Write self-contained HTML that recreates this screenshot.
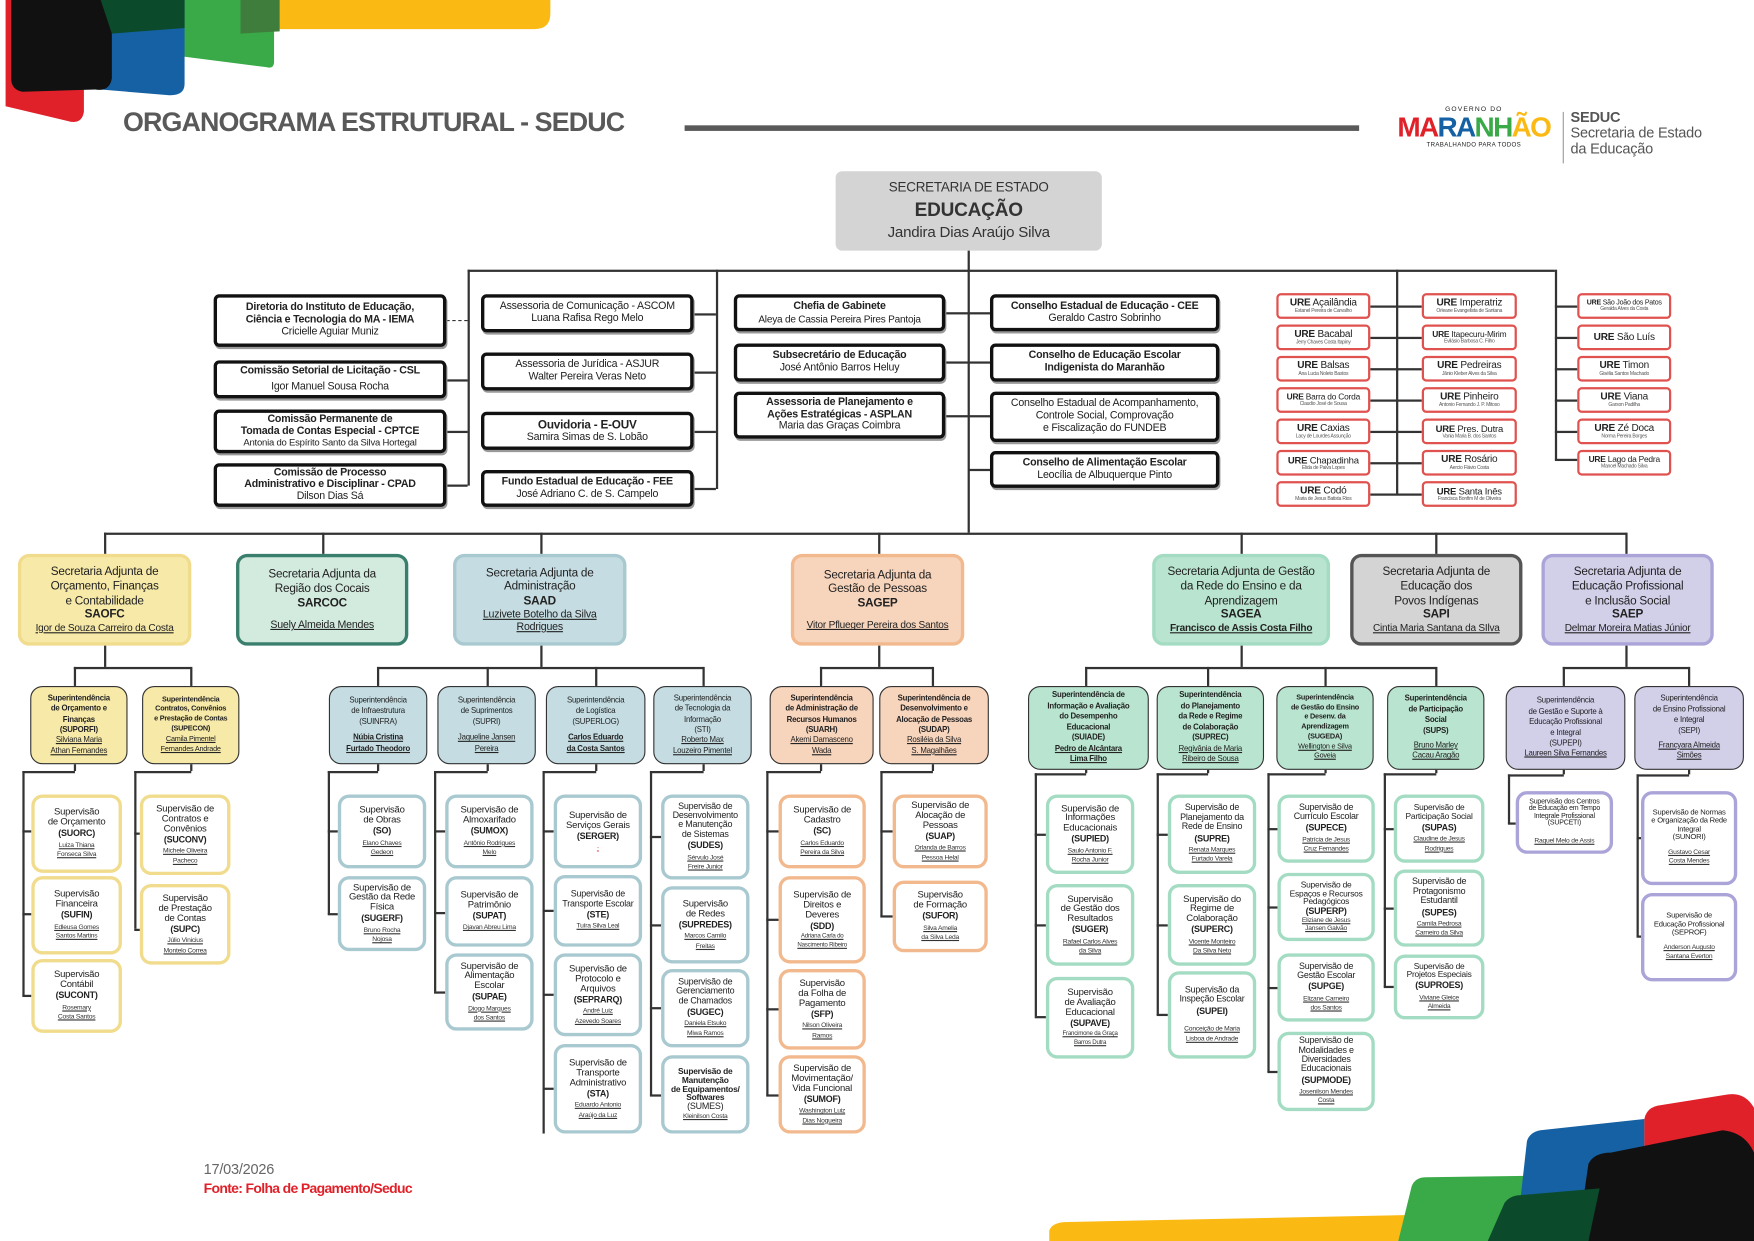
<!DOCTYPE html>
<html><head><meta charset="utf-8">
<style>
html,body{margin:0;padding:0;background:#fff;}
body{width:1754px;height:1241px;overflow:hidden;position:relative;}
#w{position:absolute;left:0;top:0;width:1568px;height:1109px;transform:scale(1.11862,1.1190);transform-origin:0 0;font-family:"Liberation Sans",sans-serif;color:#222;letter-spacing:-0.2px}
.b{position:absolute;box-sizing:border-box;display:flex;flex-direction:column;justify-content:center;align-items:center;text-align:center;line-height:1.15;overflow:hidden;}
.k{border:3px solid #111;border-radius:5px;font-size:9.5px;background:#fff;box-shadow:1px 2px 0 #999;}
.k b{font-size:9.5px}
.u{border:2px solid #e0524f;border-radius:4px;font-size:9px;background:#fff;line-height:1.05;white-space:nowrap}
.u small{font-size:4.5px;color:#555}
.sa{border-radius:10px;border-width:3px;border-style:solid;font-size:10.5px;line-height:1.2}
.sa i{font-style:normal;text-decoration:underline;font-size:9.5px}
.sp{border:1.5px solid #333;border-radius:11px;font-size:7px;line-height:1.35}
.sp i{font-style:normal;text-decoration:underline}
.c{border-width:3.5px;border-style:solid;border-radius:10px;background:#fff;font-size:8.5px;line-height:1.05}
.c b{font-size:8px;margin:2px 0}
.c i{font-style:normal;text-decoration:underline;font-size:6px;line-height:1.4;color:#333}
.Y{border-color:#f0dc8c}.T{border-color:#a9c9d0}.P{border-color:#f2b98e}.G{border-color:#a3dcc2}.V{border-color:#aaa4d8}
.h{position:absolute;height:1.5px;background:#333}
.v{position:absolute;width:1.5px;background:#333}
</style></head><body><div id="w">
<svg style="position:absolute;left:0;top:0" width="1568" height="1109">
<path d="M240 0 H492 V12 Q492 26 478 26 H240Z" fill="#fbb913"/>
<path d="M160 0 H245 V55 Q245 62 238 60 L160 50Z" fill="#3aaa48"/>
<path d="M215 0 H250 V28 L215 30Z" fill="#3f7d3c"/>
<path d="M90 0 H165 V75 Q165 86 150 85 L90 80Z" fill="#1561a4"/>
<path d="M5 0 H75 V100 Q73 112 60 108 L5 95Z" fill="#e02129"/>
<path d="M10 0 H100 V70 Q98 82 85 80 L20 82 Q10 80 10 70Z" fill="#111"/>
<path d="M90 0 H165 V25 L100 30 Z" fill="#0b4a2a"/>
<path d="M938 1109 V1100 Q940 1092 955 1092 L1300 1085 V1109Z" fill="#fbb913"/>
<path d="M1250 1109 L1262 1060 Q1265 1052 1275 1052 L1420 1050 V1109Z" fill="#3aaa48"/>
<path d="M1355 1109 L1365 1020 Q1367 1012 1377 1010 L1470 1000 V1109Z" fill="#1561a4"/>
<path d="M1470 1109 V1000 Q1472 990 1482 988 L1545 978 Q1560 976 1568 990 V1109Z" fill="#e02129"/>
<path d="M1410 1109 L1420 1040 Q1425 1030 1440 1030 L1540 1010 Q1560 1012 1568 1030 V1109Z" fill="#111"/>
<path d="M1330 1109 L1345 1075 Q1350 1068 1360 1068 L1430 1062 L1420 1109Z" fill="#0b4a2a"/>
</svg>
<div style="position:absolute;left:110px;top:96px;font-weight:bold;font-size:24px;color:#595959;letter-spacing:-0.8px">ORGANOGRAMA ESTRUTURAL - SEDUC</div>
<div style="position:absolute;left:612px;top:112px;width:603px;height:5px;background:#595959"></div>
<div style="position:absolute;left:1245px;top:95px;width:145px;text-align:center">
<div style="font-size:6px;letter-spacing:1px">GOVERNO DO</div>
<div style="font-size:25px;font-weight:bold;line-height:26px;letter-spacing:-1.5px"><span style="color:#e02129">MA</span><span style="color:#1561a4">RA</span><span style="color:#3aaa48">NH</span><span style="color:#fbb913">ÃO</span></div>
<div style="font-size:5.5px;letter-spacing:0.3px">TRABALHANDO PARA TODOS</div></div>
<div style="position:absolute;left:1397px;top:100px;width:1px;height:46px;background:#999"></div>
<div style="position:absolute;left:1404px;top:98px;font-size:13px;line-height:14px;color:#555"><b>SEDUC</b><br>Secretaria de Estado<br>da Educação</div>

<div class="b" style="left:747px;top:153px;width:238px;height:71px;background:#d4d4d4;border-radius:6px;font-size:12px;color:#333">SECRETARIA DE ESTADO<div style="font-size:17px;font-weight:bold;margin:3px 0">EDUCAÇÃO</div><div style="font-size:13.5px">Jandira Dias Araújo Silva</div></div>

<div class="v" style="left:865px;top:224px;height:252px"></div>
<div class="h" style="left:418px;top:241px;width:972px"></div>
<div class="v" style="left:418px;top:241px;height:193px"></div>
<div class="v" style="left:640px;top:241px;height:196px"></div>
<div class="v" style="left:1248px;top:241px;height:200px"></div>
<div class="v" style="left:1390px;top:241px;height:170px"></div>
<div style="position:absolute;left:399px;top:286px;width:19px;border-top:1.5px dashed #333"></div>
<div class="h" style="left:399px;top:339px;width:19px"></div>
<div class="h" style="left:399px;top:385px;width:19px"></div>
<div class="h" style="left:399px;top:433px;width:19px"></div>
<div class="h" style="left:620px;top:280px;width:20px"></div>
<div class="h" style="left:620px;top:332px;width:20px"></div>
<div class="h" style="left:620px;top:385px;width:20px"></div>
<div class="h" style="left:620px;top:436px;width:20px"></div>
<div class="h" style="left:845px;top:279px;width:40px"></div>
<div class="h" style="left:845px;top:323px;width:40px"></div>
<div class="h" style="left:845px;top:371px;width:40px"></div>
<div class="h" style="left:866px;top:419px;width:19px"></div>

<div class="b k" style="left:191px;top:263px;width:208px;height:47px"><b>Diretoria do Instituto de Educação,</b><b>Ciência e Tecnologia do MA - IEMA</b>Cricielle Aguiar Muniz</div>
<div class="b k" style="left:191px;top:322px;width:208px;height:34px"><b>Comissão Setorial de Licitação - CSL</b><div style="margin-top:3px">Igor Manuel Sousa Rocha</div></div>
<div class="b k" style="left:191px;top:366px;width:208px;height:39px;line-height:1.1"><b>Comissão Permanente de</b><b>Tomada de Contas Especial - CPTCE</b><span style="font-size:8.5px">Antonia do Espírito Santo da Silva Hortegal</span></div>
<div class="b k" style="left:191px;top:414px;width:208px;height:39px;line-height:1.1"><b>Comissão de Processo</b><b>Administrativo e Disciplinar - CPAD</b>Dilson Dias Sá</div>
<div class="b k" style="left:430px;top:263px;width:190px;height:34px">Assessoria de Comunicação - ASCOM<br>Luana Rafisa Rego Melo</div>
<div class="b k" style="left:430px;top:315px;width:190px;height:34px">Assessoria de Jurídica - ASJUR<br>Walter Pereira Veras Neto</div>
<div class="b k" style="left:430px;top:368px;width:190px;height:34px"><b style="font-size:10.5px">Ouvidoria - E-OUV</b>Samira Simas de S. Lobão</div>
<div class="b k" style="left:430px;top:420px;width:190px;height:33px"><b style="font-size:9.5px">Fundo Estadual de Educação - FEE</b>José Adriano C. de S. Campelo</div>
<div class="b k" style="left:656px;top:263px;width:189px;height:33px"><b>Chefia de Gabinete</b><span style="font-size:9px">Aleya de Cassia Pereira Pires Pantoja</span></div>
<div class="b k" style="left:656px;top:307px;width:189px;height:34px"><b>Subsecretário de Educação</b>José Antônio Barros Heluy</div>
<div class="b k" style="left:656px;top:350px;width:189px;height:42px"><b>Assessoria de Planejamento e</b><b>Ações Estratégicas - ASPLAN</b>Maria das Graças Coimbra</div>
<div class="b k" style="left:885px;top:263px;width:205px;height:33px"><b>Conselho Estadual de Educação - CEE</b>Geraldo Castro Sobrinho</div>
<div class="b k" style="left:885px;top:307px;width:205px;height:34px"><b>Conselho de Educação Escolar</b><b>Indigenista do Maranhão</b></div>
<div class="b k" style="left:885px;top:350px;width:205px;height:45px">Conselho Estadual de Acompanhamento,<br>Controle Social, Comprovação<br>e Fiscalização do FUNDEB</div>
<div class="b k" style="left:885px;top:403px;width:205px;height:33px"><b>Conselho de Alimentação Escolar</b>Leocília de Albuquerque Pinto</div>

<div class="h" style="left:1225px;top:273px;width:46px"></div><div class="h" style="left:1225px;top:301px;width:46px"></div><div class="h" style="left:1225px;top:329px;width:46px"></div><div class="h" style="left:1225px;top:357px;width:46px"></div><div class="h" style="left:1225px;top:385px;width:46px"></div><div class="h" style="left:1225px;top:413px;width:46px"></div><div class="h" style="left:1225px;top:441px;width:46px"></div>
<div class="h" style="left:1390px;top:273px;width:20px"></div><div class="h" style="left:1390px;top:301px;width:20px"></div><div class="h" style="left:1390px;top:329px;width:20px"></div><div class="h" style="left:1390px;top:357px;width:20px"></div><div class="h" style="left:1390px;top:385px;width:20px"></div><div class="h" style="left:1390px;top:410px;width:20px"></div>
<div class="b u" style="left:1141px;top:262px;width:84px;height:23px"><span><b>URE</b> Açailândia</span><small>Estanel Pereira de Carvalho</small></div>
<div class="b u" style="left:1141px;top:290px;width:84px;height:23px"><span><b>URE</b> Bacabal</span><small>Jerry Chaves Costa Itapiny</small></div>
<div class="b u" style="left:1141px;top:318px;width:84px;height:23px"><span><b>URE</b> Balsas</span><small>Ana Lucia Noleto Bastos</small></div>
<div class="b u" style="left:1141px;top:346px;width:84px;height:23px"><span style="font-size:7.5px"><b>URE</b> Barra do Corda</span><small>Claudio José de Sousa</small></div>
<div class="b u" style="left:1141px;top:374px;width:84px;height:23px"><span><b>URE</b> Caxias</span><small>Lacy de Lourdes Assunção</small></div>
<div class="b u" style="left:1141px;top:402px;width:84px;height:23px"><span style="font-size:8.5px"><b>URE</b> Chapadinha</span><small>Elida de Paiva Lopes</small></div>
<div class="b u" style="left:1141px;top:430px;width:84px;height:23px"><span><b>URE</b> Codó</span><small>Maria de Jesus Batista Rios</small></div>
<div class="b u" style="left:1271px;top:262px;width:85px;height:23px"><span><b>URE</b> Imperatriz</span><small>Orleane Evangelista de Santana</small></div>
<div class="b u" style="left:1271px;top:290px;width:85px;height:23px"><span style="font-size:7.5px"><b>URE</b> Itapecuru-Mirim</span><small>Evilásio Barbosa C. Filho</small></div>
<div class="b u" style="left:1271px;top:318px;width:85px;height:23px"><span><b>URE</b> Pedreiras</span><small>Jânio Kleber Alves da Silva</small></div>
<div class="b u" style="left:1271px;top:346px;width:85px;height:23px"><span><b>URE</b> Pinheiro</span><small>Antonio Fernando J. P. Mitoso</small></div>
<div class="b u" style="left:1271px;top:374px;width:85px;height:23px"><span style="font-size:8.5px"><b>URE</b> Pres. Dutra</span><small>Vania Maria B. dos Santos</small></div>
<div class="b u" style="left:1271px;top:402px;width:85px;height:23px"><span><b>URE</b> Rosário</span><small>Aercio Flávio Costa</small></div>
<div class="b u" style="left:1271px;top:430px;width:85px;height:23px"><span style="font-size:8.5px"><b>URE</b> Santa Inês</span><small>Francisca Bonfim M de Oliveira</small></div>
<div class="b u" style="left:1410px;top:262px;width:84px;height:23px"><span style="font-size:6.3px"><b>URE</b> São João dos Patos</span><small>Geralda Alves da Costa</small></div>
<div class="b u" style="left:1410px;top:290px;width:84px;height:23px"><span><b>URE</b> São Luís</span></div>
<div class="b u" style="left:1410px;top:318px;width:84px;height:23px"><span><b>URE</b> Timon</span><small>Gisélia Santos Machado</small></div>
<div class="b u" style="left:1410px;top:346px;width:84px;height:23px"><span><b>URE</b> Viana</span><small>Garson Padilha</small></div>
<div class="b u" style="left:1410px;top:374px;width:84px;height:23px"><span><b>URE</b> Zé Doca</span><small>Norma Pereira Borges</small></div>
<div class="b u" style="left:1410px;top:402px;width:84px;height:23px"><span style="font-size:7.5px"><b>URE</b> Lago da Pedra</span><small>Manoel Machado Silva</small></div>

<div class="h" style="left:93px;top:476px;width:1361px"></div>
<div class="v" style="left:93px;top:476px;height:19px"></div>
<div class="v" style="left:288px;top:476px;height:19px"></div>
<div class="v" style="left:483px;top:476px;height:19px"></div>
<div class="v" style="left:785px;top:476px;height:19px"></div>
<div class="v" style="left:1109px;top:476px;height:19px"></div>
<div class="v" style="left:1283px;top:476px;height:19px"></div>
<div class="v" style="left:1453px;top:476px;height:19px"></div>

<div class="b sa" style="left:16px;top:495px;width:155px;height:82px;background:#f7eaa9;border-color:#f0dc8c">Secretaria Adjunta de<br>Orçamento, Finanças<br>e Contabilidade<b>SAOFC</b><i style="font-size:9px">Igor de Souza Carreiro da Costa</i></div>
<div class="b sa" style="left:211px;top:495px;width:154px;height:82px;background:#d3ebdf;border-color:#3a7f6d">Secretaria Adjunta da<br>Região dos Cocais<b>SARCOC</b><i style="margin-top:8px">Suely Almeida Mendes</i></div>
<div class="b sa" style="left:405px;top:495px;width:155px;height:82px;background:#c5dde2;border-color:#a9c9d0">Secretaria Adjunta de<br>Administração<b>SAAD</b><i>Luzivete Botelho da Silva<br>Rodrigues</i></div>
<div class="b sa" style="left:707px;top:495px;width:155px;height:82px;background:#f7d4bc;border-color:#f2b98e">Secretaria Adjunta da<br>Gestão de Pessoas<b>SAGEP</b><i style="margin-top:8px;font-size:9px">Vitor Pflueger Pereira dos Santos</i></div>
<div class="b sa" style="left:1030px;top:495px;width:159px;height:82px;background:#b9e4cf;border-color:#a3dcc2">Secretaria Adjunta de Gestão<br>da Rede do Ensino e da<br>Aprendizagem<b>SAGEA</b><i style="font-weight:bold;font-size:9px">Francisco de Assis Costa Filho</i></div>
<div class="b sa" style="left:1207px;top:495px;width:154px;height:82px;background:#d4d4d4;border-color:#555">Secretaria Adjunta de<br>Educação dos<br>Povos Indígenas<b>SAPI</b><i style="font-size:9px">Cintia Maria Santana da SIlva</i></div>
<div class="b sa" style="left:1378px;top:495px;width:154px;height:82px;background:#d2cfe9;border-color:#aaa4d8">Secretaria Adjunta de<br>Educação Profissional<br>e Inclusão Social<b>SAEP</b><i style="font-size:9px">Delmar Moreira Matias Júnior</i></div>

<div class="v" style="left:93px;top:577px;height:19px"></div>
<div class="h" style="left:66px;top:596px;width:105px"></div>
<div class="v" style="left:66px;top:596px;height:17px"></div><div class="v" style="left:170px;top:596px;height:17px"></div>
<div class="b sp" style="left:27px;top:613px;width:87px;height:70px;background:#f7eaa9"><b>Superintendência<br>de Orçamento e<br>Finanças<br>(SUPORFI)</b><i>Silviana Maria<br>Athan Fernandes</i></div>
<div class="b sp" style="left:127px;top:613px;width:87px;height:70px;background:#f7eaa9;font-size:6.5px"><b>Superintendência<br>Contratos, Convênios<br>e Prestação de Contas<br>(SUPECON)</b><i>Camila Pimentel<br>Fernandes Andrade</i></div>
<div class="v" style="left:66px;top:683px;height:6px"></div><div class="h" style="left:20px;top:689px;width:47px"></div><div class="v" style="left:20px;top:689px;height:201px"></div>
<div class="h" style="left:20px;top:742px;width:8px"></div><div class="h" style="left:20px;top:816px;width:8px"></div><div class="h" style="left:20px;top:889px;width:8px"></div>
<div class="v" style="left:170px;top:683px;height:6px"></div><div class="h" style="left:120px;top:689px;width:51px"></div><div class="v" style="left:120px;top:689px;height:141px"></div>
<div class="h" style="left:120px;top:744px;width:5px"></div><div class="h" style="left:120px;top:830px;width:5px"></div>
<div class="b c Y" style="left:28px;top:710px;width:81px;height:70px">Supervisão<br>de Orçamento<b>(SUORC)</b><i>Luiza Thiana<br>Fonseca Silva</i></div>
<div class="b c Y" style="left:28px;top:783px;width:81px;height:70px">Supervisão<br>Financeira<b>(SUFIN)</b><i>Edleusa Gomes<br>Santos Martins</i></div>
<div class="b c Y" style="left:28px;top:857px;width:81px;height:66px">Supervisão<br>Contábil<b>(SUCONT)</b><i>Rosemary<br>Costa Santos</i></div>
<div class="b c Y" style="left:125px;top:710px;width:81px;height:72px">Supervisão de<br>Contratos e<br>Convênios<b>(SUCONV)</b><i>Michele Oliveira<br>Pacheco</i></div>
<div class="b c Y" style="left:125px;top:790px;width:81px;height:72px">Supervisão<br>de Prestação<br>de Contas<b>(SUPC)</b><i>Júlio Vinicius<br>Montelo Correa</i></div>

<div class="v" style="left:483px;top:577px;height:19px"></div>
<div class="h" style="left:337px;top:596px;width:292px"></div>
<div class="v" style="left:337px;top:596px;height:17px"></div><div class="v" style="left:435px;top:596px;height:17px"></div><div class="v" style="left:532px;top:596px;height:17px"></div><div class="v" style="left:628px;top:596px;height:17px"></div>
<div class="b sp" style="left:294px;top:613px;width:88px;height:70px;background:#c5dde2">Superintendência<br>de Infraestrutura<br>(SUINFRA)<i style="margin-top:5px;font-weight:bold">Núbia Cristina<br>Furtado Theodoro</i></div>
<div class="b sp" style="left:391px;top:613px;width:88px;height:70px;background:#c5dde2">Superintendência<br>de Suprimentos<br>(SUPRI)<i style="margin-top:5px">Jaqueline Jansen<br>Pereira</i></div>
<div class="b sp" style="left:488px;top:613px;width:89px;height:70px;background:#c5dde2">Superintendência<br>de Logística<br>(SUPERLOG)<i style="margin-top:5px;font-weight:bold">Carlos Eduardo<br>da Costa Santos</i></div>
<div class="b sp" style="left:584px;top:613px;width:88px;height:70px;background:#c5dde2">Superintendência<br>de Tecnologia da<br>Informação<br>(STI)<i>Roberto Max<br>Louzeiro Pimentel</i></div>
<div class="v" style="left:337px;top:683px;height:6px"></div><div class="h" style="left:293px;top:689px;width:45px"></div><div class="v" style="left:293px;top:689px;height:128px"></div>
<div class="h" style="left:293px;top:742px;width:9px"></div><div class="h" style="left:293px;top:816px;width:9px"></div>
<div class="v" style="left:435px;top:683px;height:6px"></div><div class="h" style="left:388px;top:689px;width:48px"></div><div class="v" style="left:388px;top:689px;height:197px"></div>
<div class="h" style="left:388px;top:742px;width:10px"></div><div class="h" style="left:388px;top:815px;width:10px"></div><div class="h" style="left:388px;top:886px;width:10px"></div>
<div class="v" style="left:532px;top:683px;height:6px"></div><div class="h" style="left:485px;top:689px;width:48px"></div><div class="v" style="left:485px;top:689px;height:324px"></div>
<div class="h" style="left:485px;top:742px;width:10px"></div><div class="h" style="left:485px;top:813px;width:10px"></div><div class="h" style="left:485px;top:888px;width:10px"></div><div class="h" style="left:485px;top:972px;width:10px"></div>
<div class="v" style="left:628px;top:683px;height:6px"></div><div class="h" style="left:581px;top:689px;width:48px"></div><div class="v" style="left:581px;top:689px;height:290px"></div>
<div class="h" style="left:581px;top:747px;width:10px"></div><div class="h" style="left:581px;top:826px;width:10px"></div><div class="h" style="left:581px;top:900px;width:10px"></div><div class="h" style="left:581px;top:978px;width:10px"></div>
<div class="b c T" style="left:302px;top:710px;width:79px;height:66px">Supervisão<br>de Obras<b>(SO)</b><i>Elano Chaves<br>Gedeon</i></div>
<div class="b c T" style="left:302px;top:783px;width:79px;height:67px">Supervisão de<br>Gestão da Rede<br>Física<b>(SUGERF)</b><i>Bruno Rocha<br>Nojosa</i></div>
<div class="b c T" style="left:398px;top:710px;width:79px;height:66px">Supervisão de<br>Almoxarifado<b>(SUMOX)</b><i>Antônio Rodrigues<br>Melo</i></div>
<div class="b c T" style="left:398px;top:783px;width:79px;height:63px">Supervisão de<br>Patrimônio<b>(SUPAT)</b><i>Djavan Abreu Lima</i></div>
<div class="b c T" style="left:398px;top:852px;width:79px;height:69px">Supervisão de<br>Alimentação<br>Escolar<b>(SUPAE)</b><i>Diogo Marques<br>dos Santos</i></div>
<div class="b c T" style="left:495px;top:710px;width:79px;height:66px">Supervisão de<br>Serviços Gerais<b>(SERGER)</b><i style="color:#e0524f">-</i></div>
<div class="b c T" style="left:495px;top:782px;width:79px;height:64px;font-size:8px">Supervisão de<br>Transporte Escolar<b>(STE)</b><i>Tuíra Silva Leal</i></div>
<div class="b c T" style="left:495px;top:852px;width:79px;height:74px">Supervisão de<br>Protocolo e<br>Arquivos<b>(SEPRARQ)</b><i>André Luiz<br>Azevedo Soares</i></div>
<div class="b c T" style="left:495px;top:933px;width:79px;height:80px">Supervisão de<br>Transporte<br>Administrativo<b>(STA)</b><i>Eduardo Antonio<br>Araújo da Luz</i></div>
<div class="b c T" style="left:591px;top:710px;width:79px;height:76px;font-size:8px">Supervisão de<br>Desenvolvimento<br>e Manutenção<br>de Sistemas<b>(SUDES)</b><i>Sérvulo José<br>Freire Junior</i></div>
<div class="b c T" style="left:591px;top:792px;width:79px;height:69px">Supervisão<br>de Redes<b>(SUPREDES)</b><i>Marcos Camilo<br>Freitas</i></div>
<div class="b c T" style="left:591px;top:866px;width:79px;height:70px;font-size:8px">Supervisão de<br>Gerenciamento<br>de Chamados<b>(SUGEC)</b><i>Daniela Etsuko<br>Miwa Ramos</i></div>
<div class="b c T" style="left:591px;top:943px;width:79px;height:70px;font-size:8px"><b style="margin:0;font-size:7.5px">Supervisão de<br>Manutenção<br>de Equipamentos/<br>Softwares</b>(SUMES)<i>Kleinilson Costa</i></div>

<div class="v" style="left:785px;top:577px;height:19px"></div>
<div class="h" style="left:733px;top:596px;width:101px"></div>
<div class="v" style="left:733px;top:596px;height:17px"></div><div class="v" style="left:833px;top:596px;height:17px"></div>
<div class="b sp" style="left:688px;top:613px;width:93px;height:70px;background:#f7d4bc"><b>Superintendência<br>de Administração de<br>Recursos Humanos<br>(SUARH)</b><i>Akemi Damasceno<br>Wada</i></div>
<div class="b sp" style="left:786px;top:613px;width:98px;height:70px;background:#f7d4bc"><b>Superintendência de<br>Desenvolvimento e<br>Alocação de Pessoas<br>(SUDAP)</b><i>Rosiléia da Silva<br>S. Magalhães</i></div>
<div class="v" style="left:733px;top:683px;height:6px"></div><div class="h" style="left:685px;top:689px;width:49px"></div><div class="v" style="left:685px;top:689px;height:290px"></div>
<div class="h" style="left:685px;top:742px;width:11px"></div><div class="h" style="left:685px;top:821px;width:11px"></div><div class="h" style="left:685px;top:901px;width:11px"></div><div class="h" style="left:685px;top:978px;width:11px"></div>
<div class="v" style="left:833px;top:683px;height:6px"></div><div class="h" style="left:787px;top:689px;width:47px"></div><div class="v" style="left:787px;top:689px;height:130px"></div>
<div class="h" style="left:787px;top:742px;width:11px"></div><div class="h" style="left:787px;top:818px;width:11px"></div>
<div class="b c P" style="left:696px;top:710px;width:78px;height:66px">Supervisão de<br>Cadastro<b>(SC)</b><i>Carlos Eduardo<br>Pereira da Silva</i></div>
<div class="b c P" style="left:696px;top:783px;width:78px;height:78px">Supervisão de<br>Direitos e<br>Deveres<b>(SDD)</b><i style="font-size:5.5px">Adriana Carla do<br>Nascimento Ribeiro</i></div>
<div class="b c P" style="left:696px;top:866px;width:78px;height:72px">Supervisão<br>da Folha de<br>Pagamento<b>(SFP)</b><i>Nilson Oliveira<br>Ramos</i></div>
<div class="b c P" style="left:696px;top:943px;width:78px;height:70px">Supervisão de<br>Movimentação/<br>Vida Funcional<b>(SUMOF)</b><i>Washington Luiz<br>Dias Nogueira</i></div>
<div class="b c P" style="left:798px;top:710px;width:85px;height:66px">Supervisão de<br>Alocação de<br>Pessoas<b>(SUAP)</b><i>Orlanda de Barros<br>Pessoa Helal</i></div>
<div class="b c P" style="left:798px;top:787px;width:85px;height:64px">Supervisão<br>de Formação<b>(SUFOR)</b><i>Silva Amelia<br>da Silva Leda</i></div>

<div class="v" style="left:1109px;top:577px;height:19px"></div>
<div class="h" style="left:970px;top:596px;width:314px"></div>
<div class="v" style="left:970px;top:596px;height:17px"></div><div class="v" style="left:1079px;top:596px;height:17px"></div><div class="v" style="left:1184px;top:596px;height:17px"></div><div class="v" style="left:1283px;top:596px;height:17px"></div>
<div class="b sp" style="left:919px;top:613px;width:108px;height:75px;background:#b9e4cf"><b>Superintendência de<br>Informação e Avaliação<br>do Desempenho<br>Educacional<br>(SUIADE)</b><i style="font-weight:bold">Pedro de Alcântara<br>Lima Filho</i></div>
<div class="b sp" style="left:1034px;top:613px;width:96px;height:75px;background:#b9e4cf"><b>Superintendência<br>do Planejamento<br>da Rede e Regime<br>de Colaboração<br>(SUPREC)</b><i>Regivânia de Maria<br>Ribeiro de Sousa</i></div>
<div class="b sp" style="left:1141px;top:613px;width:87px;height:75px;background:#b9e4cf;font-size:6.5px"><b>Superintendência<br>de Gestão do Ensino<br>e Desenv. da<br>Aprendizagem<br>(SUGEDA)</b><i>Wellington e Silva<br>Goveia</i></div>
<div class="b sp" style="left:1240px;top:613px;width:87px;height:75px;background:#b9e4cf"><b>Superintendência<br>de Participação<br>Social<br>(SUPS)</b><i style="margin-top:4px">Bruno Marley<br>Cacau Aragão</i></div>
<div class="v" style="left:970px;top:688px;height:3px"></div><div class="h" style="left:925px;top:691px;width:46px"></div><div class="v" style="left:925px;top:691px;height:217px"></div>
<div class="h" style="left:925px;top:745px;width:10px"></div><div class="h" style="left:925px;top:826px;width:10px"></div><div class="h" style="left:925px;top:908px;width:10px"></div>
<div class="v" style="left:1079px;top:688px;height:3px"></div><div class="h" style="left:1034px;top:691px;width:46px"></div><div class="v" style="left:1034px;top:691px;height:216px"></div>
<div class="h" style="left:1034px;top:745px;width:10px"></div><div class="h" style="left:1034px;top:826px;width:10px"></div><div class="h" style="left:1034px;top:906px;width:10px"></div>
<div class="v" style="left:1184px;top:688px;height:3px"></div><div class="h" style="left:1133px;top:691px;width:52px"></div><div class="v" style="left:1133px;top:691px;height:267px"></div>
<div class="h" style="left:1133px;top:740px;width:9px"></div><div class="h" style="left:1133px;top:810px;width:9px"></div><div class="h" style="left:1133px;top:882px;width:9px"></div><div class="h" style="left:1133px;top:957px;width:9px"></div>
<div class="v" style="left:1283px;top:688px;height:3px"></div><div class="h" style="left:1237px;top:691px;width:47px"></div><div class="v" style="left:1237px;top:691px;height:191px"></div>
<div class="h" style="left:1237px;top:740px;width:9px"></div><div class="h" style="left:1237px;top:811px;width:9px"></div><div class="h" style="left:1237px;top:881px;width:9px"></div>
<div class="b c G" style="left:935px;top:710px;width:79px;height:71px">Supervisão de<br>Informações<br>Educacionais<b>(SUPIED)</b><i>Saulo Antonio F.<br>Rocha Junior</i></div>
<div class="b c G" style="left:935px;top:790px;width:79px;height:73px">Supervisão<br>de Gestão dos<br>Resultados<b>(SUGER)</b><i>Rafael Carlos Alves<br>da Silva</i></div>
<div class="b c G" style="left:935px;top:873px;width:79px;height:73px">Supervisão<br>de Avaliação<br>Educacional<b>(SUPAVE)</b><i style="font-size:5.5px">Francimone da Graça<br>Barros Dutra</i></div>
<div class="b c G" style="left:1044px;top:710px;width:79px;height:71px;font-size:8px">Supervisão de<br>Planejamento da<br>Rede de Ensino<b>(SUPRE)</b><i>Renata Marques<br>Furtado Varela</i></div>
<div class="b c G" style="left:1044px;top:790px;width:79px;height:73px">Supervisão do<br>Regime de<br>Colaboração<b>(SUPERC)</b><i>Vicente Monteiro<br>Da Silva Neto</i></div>
<div class="b c G" style="left:1044px;top:868px;width:79px;height:78px;font-size:8px">Supervisão da<br>Inspeção Escolar<b>(SUPEI)</b><i style="margin-top:6px">Conceição de Maria<br>Lisboa de Andrade</i></div>
<div class="b c G" style="left:1142px;top:710px;width:87px;height:61px;font-size:8px">Supervisão de<br>Currículo Escolar<b>(SUPECE)</b><i>Patrícia de Jesus<br>Cruz Fernandes</i></div>
<div class="b c G" style="left:1142px;top:780px;width:87px;height:61px;font-size:7.5px;line-height:1">Supervisão de<br>Espaços e Recursos<br>Pedagógicos<b style="margin:1px 0">(SUPERP)</b><i style="line-height:1.2">Eliziane de Jesus<br>Jansen Galvão</i></div>
<div class="b c G" style="left:1142px;top:852px;width:87px;height:61px;font-size:8px">Supervisão de<br>Gestão Escolar<b>(SUPGE)</b><i>Elizane Carneiro<br>dos Santos</i></div>
<div class="b c G" style="left:1142px;top:922px;width:87px;height:71px;font-size:8px">Supervisão de<br>Modalidades e<br>Diversidades<br>Educacionais<b>(SUPMODE)</b><i>Josenilson Mendes<br>Costa</i></div>
<div class="b c G" style="left:1246px;top:710px;width:81px;height:61px;font-size:7.5px">Supervisão de<br>Participação Social<b>(SUPAS)</b><i>Claudine de Jesus<br>Rodrigues</i></div>
<div class="b c G" style="left:1246px;top:777px;width:81px;height:69px;font-size:8px">Supervisão de<br>Protagonismo<br>Estudantil<b>(SUPES)</b><i>Camila Pedrosa<br>Carneiro da Silva</i></div>
<div class="b c G" style="left:1246px;top:853px;width:81px;height:58px;font-size:7.5px">Supervisão de<br>Projetos Especiais<b>(SUPROES)</b><i>Viviane Gleice<br>Almeida</i></div>

<div class="v" style="left:1453px;top:577px;height:19px"></div>
<div class="h" style="left:1397px;top:596px;width:113px"></div>
<div class="v" style="left:1397px;top:596px;height:17px"></div><div class="v" style="left:1509px;top:596px;height:17px"></div>
<div class="b sp" style="left:1346px;top:613px;width:107px;height:75px;background:#d2cfe9">Superintendência<br>de Gestão e Suporte à<br>Educação Profissional<br>e Integral<br>(SUPEPI)<i>Laureen Silva Fernandes</i></div>
<div class="b sp" style="left:1461px;top:613px;width:98px;height:75px;background:#d2cfe9">Superintendência<br>de Ensino Profissional<br>e Integral<br>(SEPI)<i style="margin-top:4px">Francyara Almeida<br>Simões</i></div>
<div class="v" style="left:1397px;top:688px;height:4px"></div><div class="h" style="left:1348px;top:692px;width:50px"></div><div class="v" style="left:1348px;top:692px;height:44px"></div><div class="h" style="left:1348px;top:735px;width:7px"></div>
<div class="v" style="left:1509px;top:688px;height:4px"></div><div class="h" style="left:1463px;top:692px;width:47px"></div><div class="v" style="left:1463px;top:692px;height:145px"></div>
<div class="h" style="left:1463px;top:748px;width:4px"></div><div class="h" style="left:1463px;top:836px;width:4px"></div>
<div class="b c V" style="left:1355px;top:707px;width:87px;height:56px;font-size:6.3px">Supervisão dos Centros<br>de Educação em Tempo<br>Integrale Profissional<br>(SUPCETI)<i style="margin-top:8px">Raquel Melo de Assis</i></div>
<div class="b c V" style="left:1467px;top:707px;width:86px;height:84px;font-size:6.8px">Supervisão de Normas<br>e Organização da Rede<br>Integral<br>(SUNORI)<i style="margin-top:6px">Gustavo Cesar<br>Costa Mendes</i></div>
<div class="b c V" style="left:1467px;top:798px;width:86px;height:79px;font-size:6.8px">Supervisão de<br>Educação Profissional<br>(SEPROF)<i style="margin-top:6px">Anderson Augusto<br>Santana Everton</i></div>

<div style="position:absolute;left:182px;top:1037px;font-size:13px;color:#666">17/03/2026</div>
<div style="position:absolute;left:182px;top:1055px;font-size:12.5px;font-weight:bold;color:#e02129;letter-spacing:-0.6px">Fonte: Folha de Pagamento/Seduc</div>
</div></body></html>
